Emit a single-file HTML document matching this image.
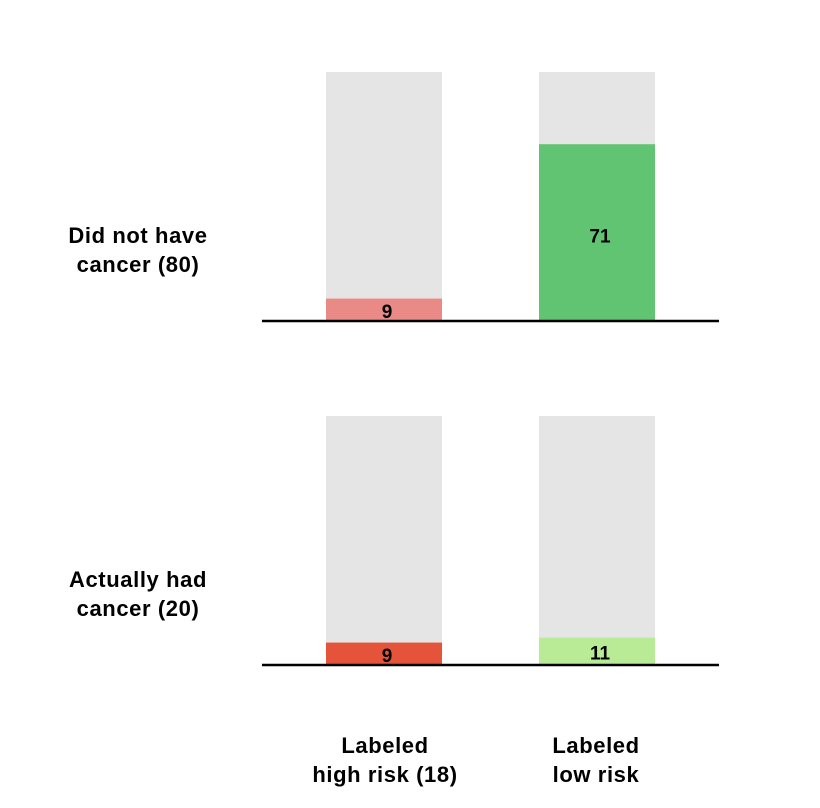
<!DOCTYPE html>
<html><head><meta charset="utf-8"><style>
html,body{margin:0;padding:0;background:#fff;}
svg{display:block;font-family:"Liberation Sans",Helvetica,Arial,sans-serif;}
</style></head><body>
<svg id="chart" width="820" height="808"></svg>
<script>
const rows = ["Did not have|cancer (80)", "Actually had|cancer (20)"];
const cols = ["Labeled|high risk (18)", "Labeled|low risk"];
const values = [[9, 71], [9, 11]];
const colors = [["#e98a87", "#60c473"], ["#e5533a", "#b9eb96"]];
const maxVal = 100;

const svg = document.getElementById('chart');
const NS = 'http://www.w3.org/2000/svg';
function mk(tag, attrs, parent){const e=document.createElementNS(NS,tag);for(const k in attrs)e.setAttribute(k,attrs[k]);(parent||svg).appendChild(e);return e;}
const colX = [326, 539], barW = 116;
const baseY = [321, 665], bgH = 249;
function yScale(v, r){ return baseY[r] - v / maxVal * bgH; }

rows.forEach((rl, r) => {
  const g = mk('g', {});
  
  
  const lines = rl.split('|');
  lines.forEach((t, i) => {
    const tx = mk('text', {x: 138, y: baseY[r] - 78 + i * 29, 'text-anchor': 'middle', 'font-size': 22, 'letter-spacing': 0.6, 'font-weight': 'bold', fill: '#000'}, g);
    tx.textContent = t;
    
    
  });
  values[r].forEach((v, c) => {
    const bg = mk('rect', {x: colX[c], y: baseY[r] - bgH, width: barW, height: bgH, fill: '#e5e5e5'}, g);
    
    
    const y = yScale(v, r);
    const b = mk('rect', {x: colX[c], y: y, width: barW, height: baseY[r] - y, fill: colors[r][c]}, g);
    
    
    const lt = mk('text', {x: colX[c] + barW / 2 + 3, y: (y + baseY[r]) / 2 + (v > 30 ? 10 : 8), 'text-anchor': 'middle', 'font-size': 19, 'font-weight': 'bold', fill: '#000'}, g);
    lt.textContent = v;
    
    
  });
  const bl = mk('line', {x1: 262, x2: 719, y1: baseY[r], y2: baseY[r], stroke: '#000', 'stroke-width': 2.5}, g);
  
  
});
cols.forEach((cl, c) => {
  cl.split('|').forEach((t, i) => {
    const tx = mk('text', {x: colX[c] + barW / 2 + (c === 0 ? 1 : -1), y: 753 + i * 29, 'text-anchor': 'middle', 'font-size': 22, 'letter-spacing': 0.6, 'font-weight': 'bold', fill: '#000'});
    tx.textContent = t;
    
    
  });
});
</script>
</body></html>
